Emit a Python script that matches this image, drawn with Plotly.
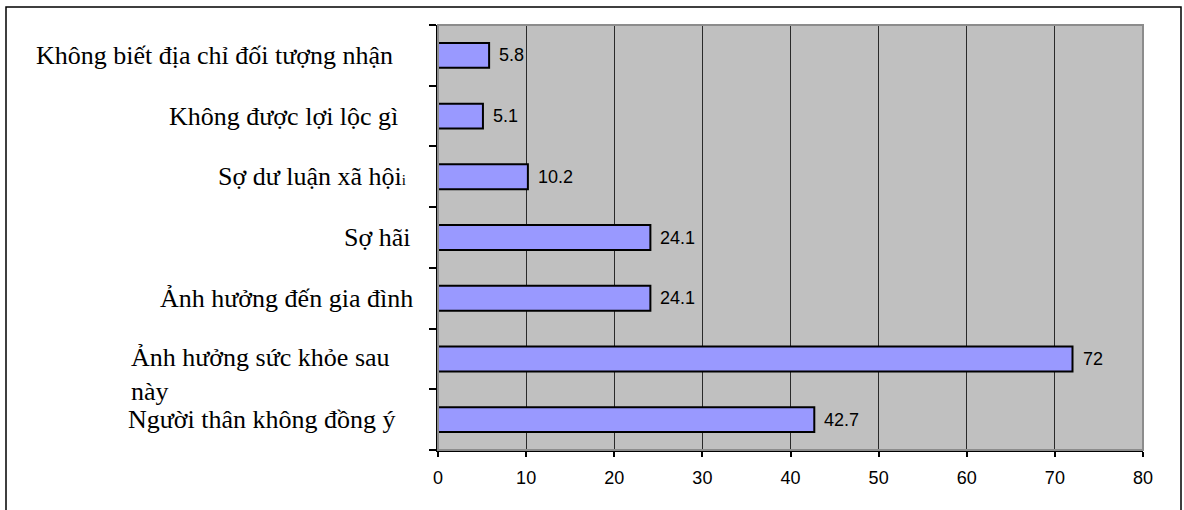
import plotly.graph_objects as go

# Reasons for refusing (percent of respondents), top to bottom
categories = [
    "Không biết địa chỉ đối tượng nhận",
    "Không được lợi lộc gì",
    "Sợ dư luận xã hội<span style='font-size:15px'>i</span>",
    "Sợ hãi",
    "Ảnh hưởng đến gia đình",
    "Ảnh hưởng sức khỏe sau<br>này",
    "Người thân không đồng ý",
]
values = [5.8, 5.1, 10.2, 24.1, 24.1, 72, 42.7]
value_labels = ["5.8", "5.1", "10.2", "24.1", "24.1", "72", "42.7"]
x_ticks = [0, 10, 20, 30, 40, 50, 60, 70, 80]

# Page geometry (pixels)
W, H = 1184, 510
PL, PR, PT, PB = 438, 1143, 25, 450          # plot area edges
PW, PH = PR - PL, PB - PT

def px_x(px):
    return (px - PL) / PW

def px_y(py):
    return (PB - py) / PH

# right edge of each category label, in page pixels
label_right = [395, 400, 408, 412, 415, 392, 398]
label_shift = [0, 0, 0, 0, 0, -16, 0]

cat_ids = list(range(len(categories)))

fig = go.Figure(
    go.Bar(
        y=cat_ids,
        x=values,
        orientation="h",
        width=0.41,
        marker=dict(color="#9999FF", line=dict(color="#000000", width=2)),
        hoverinfo="skip",
    )
)

annotations = []
for i, (cat, v, lab) in enumerate(zip(categories, values, value_labels)):
    # value label to the right of the bar end
    annotations.append(dict(
        x=v, y=i, xref="x", yref="y", text=lab, showarrow=False,
        xanchor="left", yanchor="middle", xshift=8,
        font=dict(family="Liberation Sans, Arial", size=18, color="#000000"),
    ))
    # category label on the left
    annotations.append(dict(
        x=px_x(label_right[i]), y=i, xref="paper", yref="y", text=cat,
        showarrow=False, xanchor="right", yanchor="middle", align="left",
        yshift=label_shift[i],
        font=dict(family="Liberation Serif, Times New Roman", size=26, color="#000000"),
    ))

shapes = [
    # plot area frame
    dict(type="rect", xref="paper", yref="paper", x0=0, x1=1, y0=0, y1=1,
         line=dict(color="#8C8C8C", width=2), layer="above"),
    # outer chart border
    dict(type="rect", xref="paper", yref="paper",
         x0=px_x(6), x1=px_x(1181), y0=px_y(520), y1=px_y(7),
         line=dict(color="#000000", width=1.5)),
]

fig.update_layout(
    width=W, height=H,
    margin=dict(l=PL, r=W - PR, t=PT, b=H - PB),
    paper_bgcolor="#FFFFFF",
    plot_bgcolor="#C0C0C0",
    showlegend=False,
    annotations=annotations,
    shapes=shapes,
    font=dict(family="Liberation Sans, Arial", size=18, color="#000000"),
)

fig.update_xaxes(
    range=[0, 80],
    tickvals=x_ticks,
    ticktext=[str(t) for t in x_ticks],
    showgrid=True, gridcolor="#2A2A2A", gridwidth=1,
    zeroline=False,
    showline=True, linecolor="#000000", linewidth=2,
    ticks="outside", ticklen=5, tickwidth=1.5, tickcolor="#000000",
    ticklabelstandoff=5,
    tickfont=dict(family="Liberation Sans, Arial", size=18, color="#000000"),
    fixedrange=True,
)

fig.update_yaxes(
    type="linear",
    range=[len(categories) - 0.5, -0.5],
    tickvals=[i - 0.5 for i in range(len(categories) + 1)],
    showticklabels=False,
    showgrid=False, zeroline=False,
    showline=True, linecolor="#000000", linewidth=2,
    ticks="outside", ticklen=7, tickwidth=1.5, tickcolor="#000000",
    fixedrange=True,
)

fig.write_html("out.html", config={"displayModeBar": False})
